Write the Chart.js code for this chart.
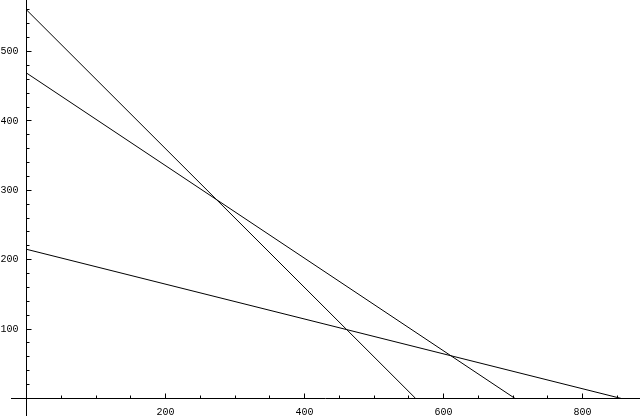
<!DOCTYPE html>
<html><head><meta charset="utf-8">
<script src="https://cdn.jsdelivr.net/npm/chart.js@4/dist/chart.umd.min.js"></script>
<style>html,body{margin:0;padding:0;background:#fff}#wrap{width:640px;height:416px;position:relative}</style>
</head><body><div id="wrap"><canvas id="c"></canvas></div>
<script>
// Data (three straight lines, each given by its end points)
const line1X = [0, 560];
const line1Y = [560, 0];
const line2X = [0, 703];
const line2Y = [469, 0];
const line3X = [0, 856];
const line3Y = [215, 0];
// Axis labels and tick marks shown in the reference
const xTickLabels = [200, 400, 600, 800];
const yTickLabels = [100, 200, 300, 400, 500];
const xMinorTicks = [50, 100, 150, 250, 300, 350, 450, 500, 550, 650, 700, 750, 850];
const yMinorTicks = [20, 40, 60, 80, 120, 140, 160, 180, 220, 240, 260, 280, 320, 340, 360, 380, 420, 440, 460, 480, 520, 540, 560];

function pts(xs, ys) { return xs.map((x, i) => ({x: x, y: ys[i]})); }

const xMin = -38.13, xMax = 882.73, yMin = -25.21, yMax = 574.21;

// Mathematica-style axes crossing at the origin, drawn from the chart's own scales
const axesPlugin = {
  id: 'originAxes',
  afterDatasetsDraw(chart) {
    const ctx = chart.ctx, xs = chart.scales.x, ys = chart.scales.y;
    const ox = Math.round(xs.getPixelForValue(0) - 0.5) + 0.5;
    const oy = Math.round(ys.getPixelForValue(0) - 0.5) + 0.5;
    ctx.save();
    ctx.strokeStyle = '#000';
    ctx.lineWidth = 1;
    ctx.beginPath();
    ctx.moveTo(11, oy); ctx.lineTo(chart.width, oy);
    ctx.moveTo(ox, 0); ctx.lineTo(ox, chart.height);
    xTickLabels.forEach(v => { const p = Math.round(xs.getPixelForValue(v) - 0.5) + 0.5; ctx.moveTo(p, oy); ctx.lineTo(p, oy - 5); });
    xMinorTicks.forEach(v => { const p = Math.round(xs.getPixelForValue(v) - 0.5) + 0.5; ctx.moveTo(p, oy); ctx.lineTo(p, oy - 3); });
    yTickLabels.forEach(v => { const p = Math.round(ys.getPixelForValue(v) - 0.5) + 0.5; ctx.moveTo(ox, p); ctx.lineTo(ox + 5, p); });
    yMinorTicks.forEach(v => { const p = Math.round(ys.getPixelForValue(v) - 0.5) + 0.5; ctx.moveTo(ox, p); ctx.lineTo(ox + 3, p); });
    ctx.stroke();
    ctx.fillStyle = '#000';
    ctx.font = '10px "Liberation Mono"';
    ctx.textAlign = 'center'; ctx.textBaseline = 'top';
    xTickLabels.forEach(v => ctx.fillText(String(v), xs.getPixelForValue(v), oy + 9));
    ctx.textAlign = 'right'; ctx.textBaseline = 'middle';
    yTickLabels.forEach(v => ctx.fillText(String(v), ox - 8, ys.getPixelForValue(v)));
    ctx.restore();
  }
};

new Chart(document.getElementById('c'), {
  type: 'scatter',
  data: {
    datasets: [
      {data: pts(line1X, line1Y)},
      {data: pts(line2X, line2Y)},
      {data: pts(line3X, line3Y)}
    ].map(d => Object.assign(d, {showLine: true, borderColor: '#000', borderWidth: 1, pointRadius: 0, tension: 0}))
  },
  options: {
    responsive: true, maintainAspectRatio: false, animation: false,
    layout: {padding: 0},
    plugins: {legend: {display: false}, tooltip: {enabled: false}},
    scales: {
      x: {type: 'linear', display: false, min: xMin, max: xMax},
      y: {type: 'linear', display: false, min: yMin, max: yMax}
    }
  },
  plugins: [axesPlugin]
});
</script>
</body></html>
